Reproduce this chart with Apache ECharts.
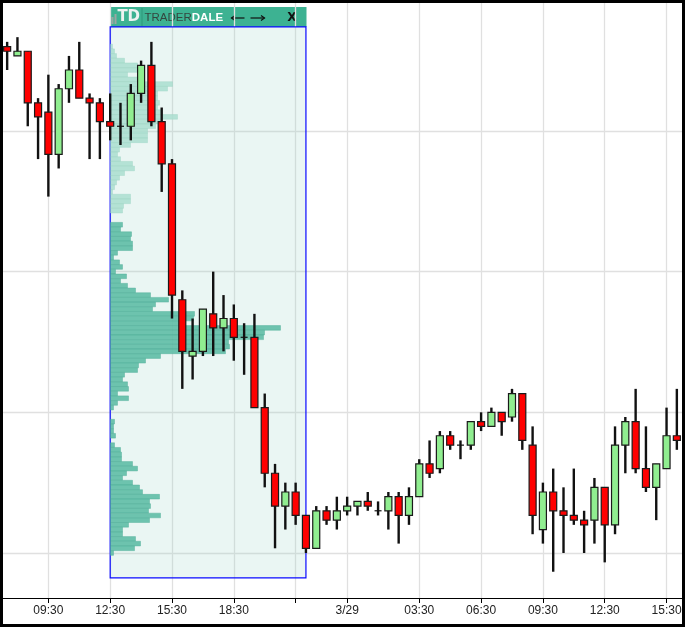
<!DOCTYPE html>
<html>
<head>
<meta charset="utf-8">
<script src="https://cdn.jsdelivr.net/npm/echarts@6/dist/echarts.min.js"></script>
<style>
html,body{margin:0;padding:0;background:#fff;}
#chart{width:685px;height:627px;}
</style>
</head>
<body>
<div id="chart"></div>
<script>
// ---- data ----
const categories = [
 '3/28 07:30','3/28 08:00','3/28 08:30','3/28 09:00','3/28 09:30','3/28 10:00','3/28 10:30','3/28 11:00',
 '3/28 11:30','3/28 12:00','3/28 12:30','3/28 13:00','3/28 13:30','3/28 14:00','3/28 14:30','3/28 15:00',
 '3/28 15:30','3/28 16:00','3/28 16:30','3/28 17:00','3/28 17:30','3/28 18:00','3/28 18:30','3/28 19:00',
 '3/28 19:30','3/28 20:00','3/28 20:30','3/28 21:00','3/28 21:30','3/28 22:00','3/28 22:30','3/28 23:00',
 '3/28 23:30','3/29 00:00','3/29 00:30','3/29 01:00','3/29 01:30','3/29 02:00','3/29 02:30','3/29 03:00',
 '3/29 03:30','3/29 04:00','3/29 04:30','3/29 05:00','3/29 05:30','3/29 06:00','3/29 06:30','3/29 07:00',
 '3/29 07:30','3/29 08:00','3/29 08:30','3/29 09:00','3/29 09:30','3/29 10:00','3/29 10:30','3/29 11:00',
 '3/29 11:30','3/29 12:00','3/29 12:30','3/29 13:00','3/29 13:30','3/29 14:00','3/29 14:30','3/29 15:00',
 '3/29 15:30','3/29 16:00'
];
const opens  = [168,166,167,156,154,145,159,163,157,156,152,151,151,158,164,152,143,114,102,103,111,108,110,106,106,91,77,70,73,68,61,69,67,69,70,71,69,69,72,68,72,79,78,85,83,83,88,87,90,89,94,83,65,73,69,68,67,67,74,66,83,88,78,74,78,85];
const closes = [167,167,156,153,145,159,163,157,156,152,151,151,158,164,152,143,115,103,103,112,108,110,106,106,91,77,70,73,68,61,69,67,69,70,71,70,69,72,68,72,79,77,85,83,83,88,87,90,88,94,84,68,73,69,68,67,66,74,66,83,88,78,74,79,85,84];
const lows   = [163,166,151,144,136,142,156,157,144,144,148,147,148,156,151,137,110,95,97,102,102,103,101,98,91,74,61,65,66,60,61,66,65,68,68,69,68,65,62,66,72,76,77,82,80,82,86,87,85,88,82,64,62,56,60,66,60,62,58,64,77,77,73,67,78,82];
const highs  = [169,170,167,157,162,160,166,169,158,157,158,156,160,165,169,155,144,116,110,112,120,115,113,109,111,94,79,75,75,68,70,70,72,72,71,73,71,73,73,74,80,84,86,86,84,88,90,91,90,95,94,87,75,78,74,78,69,76,74,87,89,95,87,79,91,95];

const tickCats   = ['3/28 09:30','3/28 12:30','3/28 15:30','3/28 18:30','3/28 21:30','3/29 00:00','3/29 03:30','3/29 06:30','3/29 09:30','3/29 12:30','3/29 15:30'];
const tickLabels = ['09:30','12:30','15:30','18:30','','3/29','03:30','06:30','09:30','12:30','15:30'];
const gridLevels = [60, 90, 120, 150];

const profilePrices = [168,167,166,165,164,163,162,161,160,159,158,157,156,155,154,153,152,151,150,149,148,147,146,145,144,143,142,141,140,139,138,137,136,135,134,133,132,131,130,129,128,127,126,125,124,123,122,121,120,119,118,117,116,115,114,113,112,111,110,109,108,107,106,105,104,103,102,101,100,99,98,97,96,95,94,93,92,91,90,89,88,87,86,85,84,83,82,81,80,79,78,77,76,75,74,73,72,71,70,69,68,67,66,65,64,63,62,61,60];
const profileVolumes = [20,40,60,140,270,280,170,270,620,570,470,470,490,470,520,670,500,450,370,370,370,200,90,70,100,220,240,140,90,60,40,20,200,200,130,120,0,0,120,100,210,200,220,220,70,30,90,120,50,160,100,170,250,400,580,450,420,840,830,750,1700,1540,1530,1180,1190,1150,500,350,280,270,140,120,170,180,70,180,70,30,0,0,40,30,30,50,0,40,100,110,110,220,270,160,120,220,290,320,490,390,400,380,500,390,180,120,120,250,300,240,30];
const profileLightFrom = 132; // levels at/above are drawn in the light shade

const boxStart = '3/28 12:30', boxEnd = '3/28 22:00';
const boxHigh = 172.2, boxLow = 54.7;

// ---- chart ----
const candleData = categories.map((c, i) => [i, opens[i], closes[i], lows[i], highs[i]]);
const profileData = profilePrices.map((p, i) => [p, profileVolumes[i]]);
const tickSet = new Set(tickCats);
const labelMap = {};
tickCats.forEach((c, i) => labelMap[c] = tickLabels[i]);

const Y_MIN = 50.4, Y_MAX = 177.5;
const GRID = {left: 2, right: 3, top: 2, bottom: 29};

const chart = echarts.init(document.getElementById('chart'), null, {renderer: 'canvas'});

function renderCandle(params, api) {
  const i = api.value(0);
  const o = api.value(1), c = api.value(2), l = api.value(3), h = api.value(4);
  const pO = api.coord([i, o]), pC = api.coord([i, c]);
  const pL = api.coord([i, l]), pH = api.coord([i, h]);
  const bw = api.size([1, 0])[0] * 0.68;
  const x = pO[0];
  const top = Math.min(pO[1], pC[1]), bot = Math.max(pO[1], pC[1]);
  const doji = o === c;
  return {
    type: 'group',
    children: [{
      type: 'line',
      shape: {x1: x, y1: pH[1], x2: x, y2: pL[1]},
      style: {stroke: '#111', lineWidth: 2.4}
    }, {
      type: 'rect',
      shape: {x: x - bw / 2, y: doji ? top - 0.6 : top, width: bw, height: doji ? 1.2 : bot - top},
      style: doji
        ? {fill: '#111', stroke: null, lineWidth: 0}
        : {fill: c > o ? '#90ee90' : '#ff0000', stroke: '#1a1a1a', lineWidth: 1.2}
    }]
  };
}

function renderProfile(params, api) {
  const p = api.value(0), v = api.value(1);
  if (!v) return null;
  const a = api.coord([0, p + 0.5]);
  const b = api.coord([v, p - 0.5]);
  const light = p >= profileLightFrom;
  return {
    type: 'rect',
    shape: {x: a[0], y: a[1], width: b[0] - a[0], height: b[1] - a[1]},
    style: {
      fill: light ? 'rgba(170,222,207,0.85)' : 'rgba(95,190,166,0.9)',
      stroke: light ? 'rgba(150,210,194,0.6)' : 'rgba(75,172,148,0.7)',
      lineWidth: 0.6
    }
  };
}

const option = {
  animation: false,
  backgroundColor: '#ffffff',
  grid: [
    Object.assign({}, GRID),
    {left: 110.5, width: 195, top: GRID.top, bottom: GRID.bottom}
  ],
  xAxis: [{
    type: 'category',
    data: categories,
    boundaryGap: true,
    gridIndex: 0,
    axisLine: {show: true, lineStyle: {color: '#000', width: 1.2}},
    axisTick: {show: true, alignWithLabel: true, length: 5, lineStyle: {color: '#000', width: 1},
      interval: (idx, val) => tickSet.has(val)},
    axisLabel: {
      interval: (idx, val) => tickSet.has(val),
      formatter: (val) => labelMap[val] || '',
      margin: 7, color: '#222', fontSize: 12, fontFamily: 'Liberation Sans, Arial, sans-serif'
    },
    splitLine: {show: false}
  }, {
    type: 'value', gridIndex: 1, min: 0, max: 1950, show: false
  }],
  yAxis: [{
    type: 'value', gridIndex: 0, min: Y_MIN, max: Y_MAX, show: false, splitLine: {show: false}
  }, {
    type: 'value', gridIndex: 1, min: Y_MIN, max: Y_MAX, show: false, splitLine: {show: false}
  }],
  series: [
    {
      name: 'grid', type: 'line', xAxisIndex: 0, yAxisIndex: 0, z: 0,
      data: categories.map(() => null), symbol: 'none', silent: true,
      markLine: {
        z: 0,
        silent: true, symbol: ['none', 'none'], animation: false,
        label: {show: false},
        lineStyle: {color: '#e0e0e0', width: 1.3, type: 'solid'},
        data: gridLevels.map(v => ({yAxis: v})).concat(tickCats.map(c => ({xAxis: c})))
      }
    },
    {
      name: 'box', type: 'line', xAxisIndex: 0, yAxisIndex: 0, z: 1,
      data: categories.map(() => null), symbol: 'none', silent: true,
      markArea: {
        z: 1,
        silent: true,
        itemStyle: {color: 'rgba(150,210,195,0.2)', borderColor: '#0a0aff', borderWidth: 1.2},
        data: [[{xAxis: boxStart, yAxis: boxHigh}, {xAxis: boxEnd, yAxis: boxLow}]]
      }
    },
    {
      name: 'profile', type: 'custom', xAxisIndex: 1, yAxisIndex: 1, z: 2,
      renderItem: renderProfile, data: profileData,
      encode: {x: 1, y: 0}, silent: true
    },
    {
      name: 'candles', type: 'custom', xAxisIndex: 0, yAxisIndex: 0, z: 3,
      renderItem: renderCandle, data: candleData,
      encode: {x: 0, y: [1, 2, 3, 4]}, silent: true
    }
  ],
  graphic: [
    {
      type: 'rect', z: 100, silent: true,
      shape: {x: 1.5, y: 1.5, width: 682, height: 624},
      style: {fill: null, stroke: '#000', lineWidth: 3}
    },
    {
      type: 'group', left: 110.5, top: 7, z: 90, silent: true,
      children: [
        {type: 'rect', shape: {x: 0, y: 0, width: 196, height: 20}, style: {fill: '#3db292'}},
        {type: 'rect', shape: {x: 1, y: 10, width: 2, height: 7}, style: {fill: '#9aa5a2'}},
        {type: 'rect', shape: {x: 4, y: 7, width: 2, height: 10}, style: {fill: '#9aa5a2'}},
        {type: 'text', style: {x: 7, y: 10.5, text: 'T', fill: '#eef2f1', font: 'bold 15px "DejaVu Sans", sans-serif', verticalAlign: 'middle'}},
        {type: 'text', style: {x: 17, y: 10.5, text: 'D', fill: '#eef2f1', font: 'bold 15px "DejaVu Sans", sans-serif', verticalAlign: 'middle'}},
        {type: 'rect', shape: {x: 31, y: 1, width: 1, height: 18}, style: {fill: 'rgba(0,80,60,0.25)'}},
        {type: 'text', style: {x: 34, y: 11, text: '{a|TRADER}{b|DALE}', verticalAlign: 'middle',
          rich: {
            a: {fill: '#34463f', fontSize: 11.5, fontFamily: 'Liberation Sans, Arial, sans-serif'},
            b: {fill: '#ffffff', fontSize: 11.5, fontWeight: 'bold', fontFamily: 'Liberation Sans, Arial, sans-serif'}
          }}},
        // left arrow
        {type: 'line', shape: {x1: 121, y1: 11, x2: 134, y2: 11}, style: {stroke: '#111', lineWidth: 1.2}},
        {type: 'polyline', shape: {points: [[124.5, 8.5], [121, 11], [124.5, 13.5]]}, style: {stroke: '#111', lineWidth: 1.2, fill: null}},
        // right arrow
        {type: 'line', shape: {x1: 140, y1: 11, x2: 154, y2: 11}, style: {stroke: '#111', lineWidth: 1.2}},
        {type: 'polyline', shape: {points: [[150.5, 8.5], [154, 11], [150.5, 13.5]]}, style: {stroke: '#111', lineWidth: 1.2, fill: null}},
        {type: 'text', style: {x: 181.5, y: 10.5, text: 'X', fill: '#111', font: 'bold 12px "DejaVu Sans", sans-serif', align: 'center', verticalAlign: 'middle'}}
      ]
    }
  ]
};
chart.setOption(option);
</script>
</body>
</html>
